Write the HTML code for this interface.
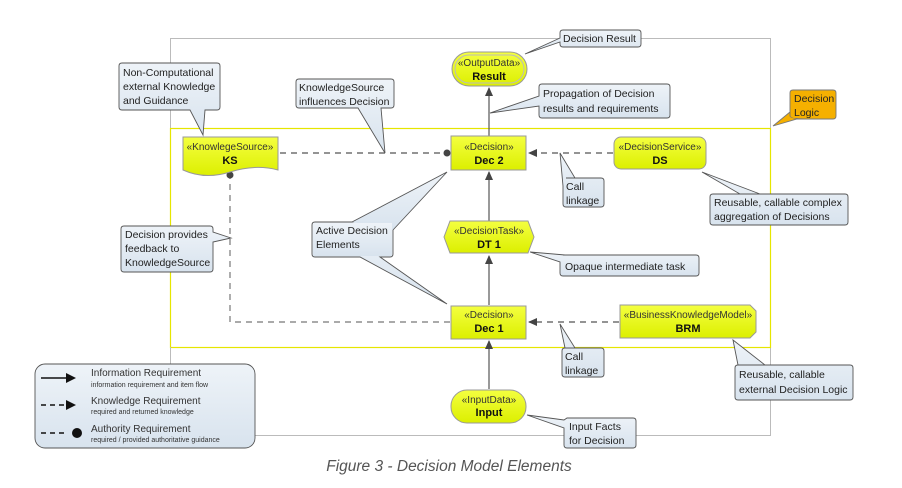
<!DOCTYPE html>
<html><head><meta charset="utf-8"><style>
html,body{margin:0;padding:0;background:#fff;width:902px;height:488px;overflow:hidden}
svg{display:block}
text{font-family:"Liberation Sans",sans-serif}
</style></head><body>
<svg width="902" height="488" viewBox="0 0 902 488" xmlns="http://www.w3.org/2000/svg">
<defs>
<linearGradient id="cg" x1="0" y1="0" x2="0" y2="1"><stop offset="0" stop-color="#eef3f8"/><stop offset="1" stop-color="#d8e3ee"/></linearGradient>
<linearGradient id="yg" x1="0" y1="0" x2="0" y2="1"><stop offset="0" stop-color="#f4ff40"/><stop offset="1" stop-color="#dcef00"/></linearGradient>
<marker id="ar" markerWidth="10" markerHeight="10" refX="8" refY="4" orient="auto" markerUnits="userSpaceOnUse"><path d="M0,0 L9,4 L0,8 Z" fill="#444"/></marker>
</defs>
<!-- frames -->
<rect x="170.5" y="38.5" width="600" height="397" fill="none" stroke="#bbb" stroke-width="1"/>
<rect x="170.5" y="128.5" width="600" height="219" fill="none" stroke="#e6e600" stroke-width="1.2"/>
<line x1="170.5" y1="347" x2="170.5" y2="364" stroke="#bbb"/>

<!-- connectors -->
<g stroke="#555" stroke-width="1.2" fill="none">
<line x1="489" y1="136" x2="489" y2="88" marker-end="url(#ar)"/>
<line x1="489" y1="222" x2="489" y2="172" marker-end="url(#ar)"/>
<line x1="489" y1="305" x2="489" y2="256" marker-end="url(#ar)"/>
<line x1="489" y1="389" x2="489" y2="341" marker-end="url(#ar)"/>
<line x1="613" y1="153" x2="529" y2="153" stroke-dasharray="6,5" marker-end="url(#ar)"/>
<line x1="619" y1="322" x2="529" y2="322" stroke-dasharray="6,5" marker-end="url(#ar)"/>
<line x1="280" y1="153" x2="446" y2="153" stroke-dasharray="6,5"/>
<polyline points="450,322 230,322 230,176" stroke-dasharray="6,5" stroke="#777"/>
</g>
<circle cx="447" cy="153" r="3.5" fill="#444"/>
<circle cx="230" cy="175" r="3.5" fill="#444"/>

<!-- nodes -->
<g stroke="#999" stroke-width="1" fill="url(#yg)">
<rect x="452" y="52" width="75" height="34" rx="17"/>
<rect x="455" y="55" width="69" height="28" rx="14" fill="none" stroke="#bbb"/>
<rect x="451" y="136" width="75" height="34"/>
<path d="M183,137 L278,137 L278,170 Q255,164 230,172 Q205,180 183,170 Z"/>
<rect x="614" y="137" width="92" height="32" rx="7"/>
<path d="M450,221 L528,221 L534,237 L528,253 L450,253 L444,237 Z"/>
<rect x="451" y="306" width="75" height="33"/>
<path d="M620,305 L750,305 L756,311 L756,332 L750,338 L620,338 Z"/>
<rect x="451" y="390" width="75" height="33" rx="16"/>
</g>
<g font-size="10" fill="#333" text-anchor="middle">
<text x="489" y="66">«OutputData»</text>
<text x="489" y="150">«Decision»</text>
<text x="230" y="150">«KnowlegeSource»</text>
<text x="660" y="150">«DecisionService»</text>
<text x="489" y="234">«DecisionTask»</text>
<text x="489" y="318">«Decision»</text>
<text x="688" y="318">«BusinessKnowledgeModel»</text>
<text x="489" y="403">«InputData»</text>
</g>
<g font-size="11" font-weight="bold" fill="#111" text-anchor="middle">
<text x="489" y="80">Result</text>
<text x="489" y="164">Dec 2</text>
<text x="230" y="164">KS</text>
<text x="660" y="164">DS</text>
<text x="489" y="248">DT 1</text>
<text x="489" y="332">Dec 1</text>
<text x="688" y="332">BRM</text>
<text x="489" y="416">Input</text>
</g>

<!-- callouts -->
<g stroke="#555" stroke-width="0.9" fill="url(#cg)">
<path d="M563,30 H638 Q641,30 641,33 V44 Q641,47 638,47 H563 Q560,47 560,44 V42 L525,54 L560,38 V33 Q560,30 563,30 Z"/>
<path d="M122,63 H217 Q220,63 220,66 V107 Q220,110 217,110 H205 L203,135 L190,110 H122 Q119,110 119,107 V66 Q119,63 122,63 Z"/>
<path d="M299,79 H391 Q394,79 394,82 V105 Q394,108 391,108 H381 L385,153 L358,108 H299 Q296,108 296,105 V82 Q296,79 299,79 Z"/>
<path d="M542,84 H667 Q670,84 670,87 V115 Q670,118 667,118 H542 Q539,118 539,115 V106 L490,113 L539,96 V87 Q539,84 542,84 Z"/>
<path d="M566,178 H601 Q604,178 604,181 V204 Q604,207 601,207 H566 Q563,207 563,204 V186 L560,153 L575,178 Z"/>
<path d="M713,194 H845 Q848,194 848,197 V222 Q848,225 845,225 H713 Q710,225 710,222 V197 Q710,194 713,194 H760 L702,172 L740,194 Z"/>
<path d="M315,222 H390 Q393,222 393,225 V254 Q393,257 390,257 H380 L447,304 L360,257 H315 Q312,257 312,254 V225 Q312,222 315,222 Z"/>
<path d="M393,230 L447,172 L352,222" />
<path d="M124,226 H210 Q213,226 213,229 V232 L231,238 L213,242 V269 Q213,272 210,272 H124 Q121,272 121,269 V229 Q121,226 124,226 Z"/>
<path d="M563,255 H696 Q699,255 699,258 V273 Q699,276 696,276 H563 Q560,276 560,273 V262 L530,252 L565,255 Z"/>
<path d="M565,348 H601 Q604,348 604,351 V374 Q604,377 601,377 H565 Q562,377 562,374 V351 Q562,348 565,348 H575 L560,324 Z"/>
<path d="M738,365 H850 Q853,365 853,368 V397 Q853,400 850,400 H738 Q735,400 735,397 V368 Q735,365 738,365 H765 L733,340 Z"/>
<path d="M567,418 H633 Q636,418 636,421 V445 Q636,448 633,448 H567 Q564,448 564,445 V428 L527,415 L564,420 Z"/>
<rect x="35" y="364" width="220" height="84" rx="10"/>
</g>
<rect x="313" y="223" width="79" height="33" fill="url(#cg)"/>
<path d="M812,119 Q790,119 790,116 V93 Q790,90 793,90 H833 Q836,90 836,93 V116 Q836,119 833,119 H797 L773,126 L790,112" fill="#f5b000" stroke="#777" stroke-width="0.9"/>
<rect x="791" y="91" width="44" height="27" rx="3" fill="#f5b000"/>

<g font-size="10.5" fill="#222" font-family="Liberation Sans,sans-serif">
<text x="563" y="42">Decision Result</text>
<text x="123" y="76">Non-Computational</text>
<text x="123" y="90">external Knowledge</text>
<text x="123" y="104">and Guidance</text>
<text x="299" y="91">KnowledgeSource</text>
<text x="299" y="105">influences Decision</text>
<text x="543" y="97">Propagation of Decision</text>
<text x="543" y="112">results and requirements</text>
<text x="794" y="102">Decision</text>
<text x="794" y="116">Logic</text>
<text x="566" y="190">Call</text>
<text x="566" y="204">linkage</text>
<text x="714" y="206">Reusable, callable complex</text>
<text x="714" y="220">aggregation of Decisions</text>
<text x="316" y="234">Active Decision</text>
<text x="316" y="248">Elements</text>
<text x="125" y="238">Decision provides</text>
<text x="125" y="252">feedback to</text>
<text x="125" y="266">KnowledgeSource</text>
<text x="565" y="270">Opaque intermediate task</text>
<text x="565" y="360">Call</text>
<text x="565" y="374">linkage</text>
<text x="739" y="378">Reusable, callable</text>
<text x="739" y="393">external Decision Logic</text>
<text x="569" y="430">Input Facts</text>
<text x="569" y="444">for Decision</text>
</g>

<!-- legend -->
<g stroke="#111" stroke-width="1.5">
<line x1="41" y1="378" x2="66" y2="378"/>
<line x1="41" y1="405" x2="66" y2="405" stroke-dasharray="5,4"/>
<line x1="41" y1="433" x2="66" y2="433" stroke-dasharray="5,4"/>
</g>
<path d="M66,373 L76,378 L66,383 Z" fill="#111"/>
<path d="M66,400 L76,405 L66,410 Z" fill="#111"/>
<circle cx="77" cy="433" r="5" fill="#111"/>
<g fill="#333">
<text x="91" y="376" font-size="10">Information Requirement</text>
<text x="91" y="387" font-size="7">information requirement and item flow</text>
<text x="91" y="404" font-size="10">Knowledge Requirement</text>
<text x="91" y="414" font-size="7">required and returned knowledge</text>
<text x="91" y="432" font-size="10">Authority Requirement</text>
<text x="91" y="442" font-size="7">required / provided authoritative guidance</text>
</g>

<text x="449" y="471" font-size="15.5" font-style="italic" fill="#555" text-anchor="middle">Figure 3 - Decision Model Elements</text>
</svg>
</body></html>
